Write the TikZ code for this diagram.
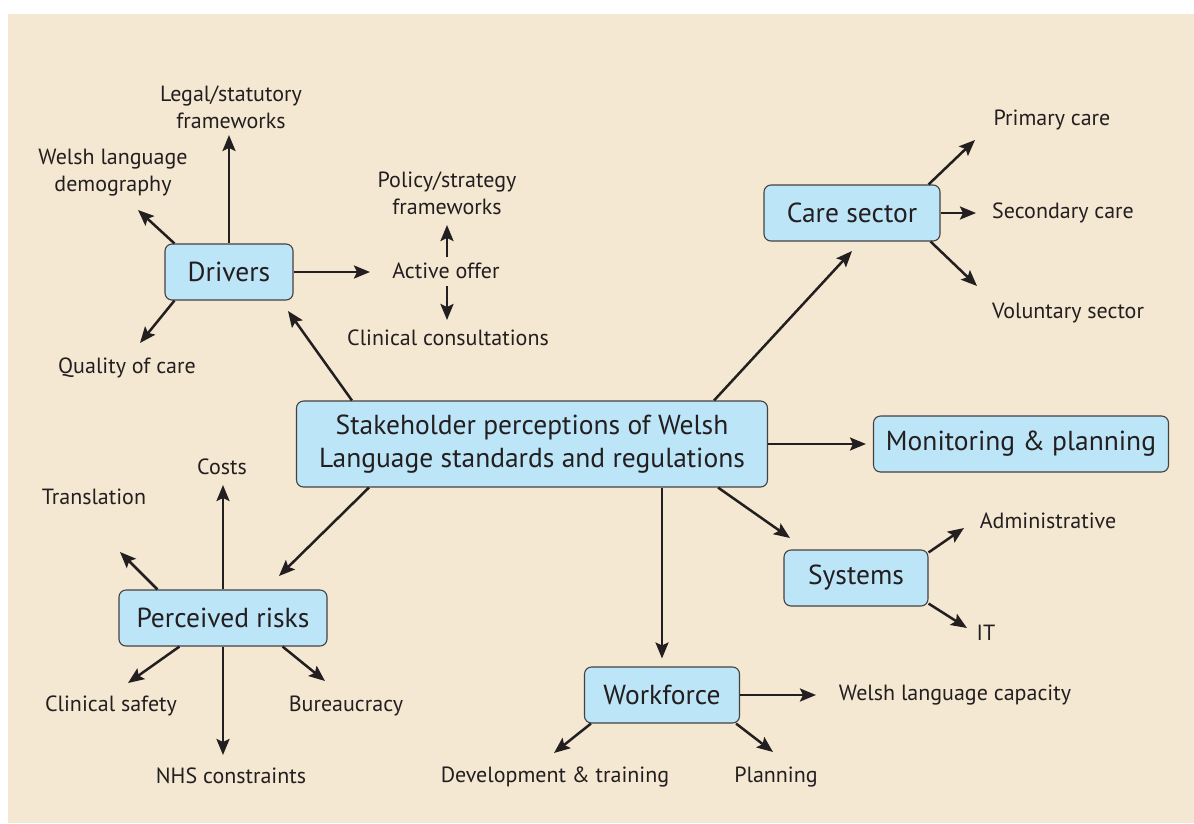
\documentclass[tikz,border=0pt]{standalone}
\usepackage{fontspec}
\setmainfont{PT Sans}
\usetikzlibrary{arrows.meta}

\definecolor{paper}{HTML}{F5E8D2}
\definecolor{boxblue}{HTML}{BDE5F8}
\definecolor{ink}{HTML}{231F20}

\tikzset{
  box/.style={draw=ink!85, line width=1.1pt, fill=boxblue, rounded corners=7pt,
    minimum height=56pt, inner sep=0pt, text=ink, align=center,
    font=\fontsize{27.5}{33}\selectfont},
  lbl/.style={text=ink, inner sep=0pt, align=center,
    font=\fontsize{22}{27}\selectfont},
  arr/.style={draw=ink, line width=2.5pt,
    -{Stealth[length=16pt,width=13pt,inset=3pt]}},
}

\begin{document}
\begin{tikzpicture}[x=1pt,y=-1pt]

% Page and background panel
\useasboundingbox (0,0) rectangle (1194,823);
\fill[white] (0,0) rectangle (1194,823);
\fill[paper] (8,14) rectangle (1194,823);

% Main boxes
\node[box, minimum width=471pt, minimum height=86pt] (hub) at (532,444)
  {Stakeholder perceptions of Welsh\\Language standards and regulations};
\node[box, minimum width=128pt] (drv) at (229,272) {Drivers};
\node[box, minimum width=176pt] (care) at (852,213) {Care sector};
\node[box, minimum width=295pt] (mon) at (1021,444) {Monitoring \& planning};
\node[box, minimum width=144pt] (sys) at (856,578) {Systems};
\node[box, minimum width=208pt] (risk) at (223,618) {Perceived risks};
\node[box, minimum width=155pt] (wf) at (662,695) {Workforce};

% Labels round the drivers
\node[lbl] (legal) at (231,107) {Legal/statutory\\frameworks};
\node[lbl] (demo) at (113,173) {Welsh language\\demography};
\node[lbl] (policy) at (447,193) {Policy/strategy\\frameworks};
\node[lbl] (offer) at (446,271) {Active offer};
\node[lbl] (consult) at (448,338) {Clinical consultations};
\node[lbl] (quality) at (127,368) {Quality of care};

% Labels round the care sector
\node[lbl] (primary) at (1052,120) {Primary care};
\node[lbl] (secondary) at (1063,213) {Secondary care};
\node[lbl] (voluntary) at (1068,313) {Voluntary sector};

% Labels round the perceived risks
\node[lbl] (costs) at (222,467) {Costs};
\node[lbl] (transl) at (94,497) {Translation};
\node[lbl] (safety) at (111,706) {Clinical safety};
\node[lbl] (bureau) at (346,706) {Bureaucracy};
\node[lbl] (nhs) at (231,776) {NHS constraints};

% Labels round systems and workforce
\node[lbl] (admin) at (1048,521) {Administrative};
\node[lbl] (it) at (986,633) {IT};
\node[lbl] (capacity) at (955,695) {Welsh language capacity};
\node[lbl] (devtrain) at (555,777) {Development \& training};
\node[lbl] (planning) at (776,777) {Planning};

% Arrow tips that stop short of their targets
\coordinate (drvTip) at (288,311);
\coordinate (careTip) at (852,251);
\coordinate (sysTip) at (790,538);
\coordinate (riskTip) at (279,576);
\coordinate (legalTip) at (229,135);
\coordinate (demoTip) at (138,210);
\coordinate (qualityTip) at (140,343);
\coordinate (offerTip) at (370,272);
\coordinate (offerUp) at (447,257);
\coordinate (policyTip) at (447,225);
\coordinate (offerDown) at (447,286);
\coordinate (consultTip) at (447,320);
\coordinate (primaryTip) at (975,140);
\coordinate (secondaryTip) at (976,213);
\coordinate (voluntaryTip) at (977,286);
\coordinate (adminTip) at (964,528);
\coordinate (itTip) at (967,628);
\coordinate (costsTip) at (223,485);
\coordinate (translTip) at (120,552);
\coordinate (safetyTip) at (128,683);
\coordinate (bureauTip) at (325,681);
\coordinate (nhsTip) at (223,755);
\coordinate (capacityTip) at (816,695);
\coordinate (devtrainTip) at (554,753);
\coordinate (planningTip) at (773,752);

% Spokes out of the central box
\draw[arr] ([xshift=56pt]hub.north west) -- (drvTip);
\draw[arr] ([xshift=-54pt]hub.north east) -- (careTip);
\draw[arr] (hub.east) -- ([xshift=-7pt]mon.west);
\draw[arr] ([xshift=-50pt]hub.south east) -- (sysTip);
\draw[arr] (hub.south -| wf.north) -- ([yshift=8pt]wf.north);
\draw[arr] ([xshift=73pt]hub.south west) -- (riskTip);

% Drivers
\draw[arr] (drv.north) -- (legalTip);
\draw[arr] ([xshift=10pt]drv.north west) -- (demoTip);
\draw[arr] ([xshift=10pt]drv.south west) -- (qualityTip);
\draw[arr] (drv.east) -- (offerTip);
\draw[arr] (offerUp) -- (policyTip);
\draw[arr] (offerDown) -- (consultTip);

% Care sector
\draw[arr] ([xshift=-12pt]care.north east) -- (primaryTip);
\draw[arr] (care.east) -- (secondaryTip);
\draw[arr] ([xshift=-10pt]care.south east) -- (voluntaryTip);

% Systems
\draw[arr] ([yshift=-3pt]sys.north east) -- (adminTip);
\draw[arr] ([yshift=3pt]sys.south east) -- (itTip);

% Perceived risks
\draw[arr] (risk.north) -- (costsTip);
\draw[arr] ([xshift=39pt]risk.north west) -- (translTip);
\draw[arr] ([xshift=61pt]risk.south west) -- (safetyTip);
\draw[arr] ([xshift=-45pt]risk.south east) -- (bureauTip);
\draw[arr] (risk.south) -- (nhsTip);

% Workforce
\draw[arr] (wf.east) -- (capacityTip);
\draw[arr] ([xshift=7pt]wf.south west) -- (devtrainTip);
\draw[arr] ([xshift=-4pt]wf.south east) -- (planningTip);

\end{tikzpicture}
\end{document}
